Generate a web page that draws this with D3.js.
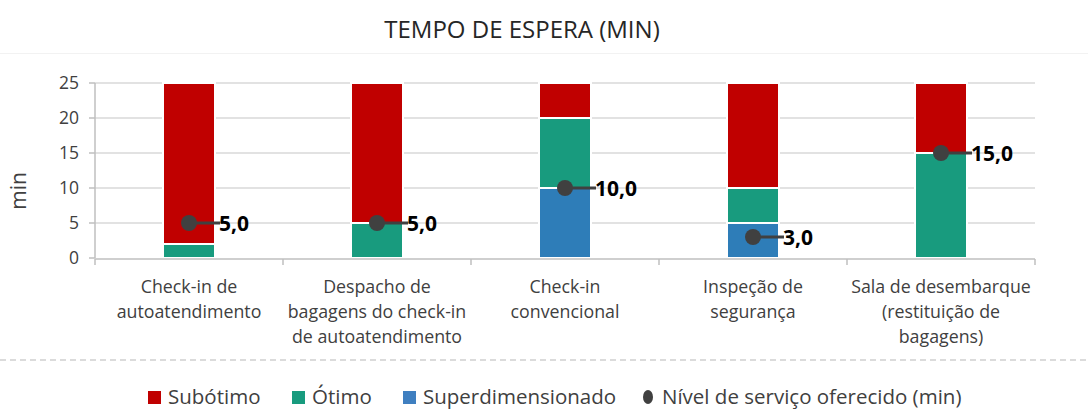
<!DOCTYPE html>
<html><head><meta charset="utf-8">
<script src="https://cdn.jsdelivr.net/npm/d3@7"></script>
<style>body{margin:0;background:#fff;}svg{display:block;font-family:"Open Sans",sans-serif;}</style>
</head><body><svg id="c" width="1088" height="416"></svg>
<script>
const categories = [
  ["Check-in de","autoatendimento"],
  ["Despacho de","bagagens do check-in","de autoatendimento"],
  ["Check-in","convencional"],
  ["Inspeção de","segurança"],
  ["Sala de desembarque","(restituição de","bagagens)"]
];
const superdimensionado = [0, 0, 10, 5, 0];
const otimo = [2, 5, 10, 5, 15];
const subotimo = [23, 20, 5, 15, 10];
const nivelServico = [5, 5, 10, 3, 15];
const nivelLabels = ["5,0","5,0","10,0","3,0","15,0"];
const yTicks = [0,5,10,15,20,25];
const seriesNames = ["Subótimo","Ótimo","Superdimensionado","Nível de serviço oferecido (min)"];
const colors = {sub:"#C00000", ot:"#189B7E", sup:"#2E7DB8", dot:"#404040"};

const svg = d3.select("#c");
const L=95, R=1035, T=83, B=258;
const x = d3.scaleBand().domain(d3.range(categories.length)).range([L,R]).paddingInner(0).paddingOuter(0);
const y = d3.scaleLinear().domain([0,25]).range([B,T]);
const bw = 52;

// title
svg.append("text").attr("x",522).attr("y",38).attr("text-anchor","middle")
  .attr("font-size",24).attr("fill","#262626").text("TEMPO DE ESPERA (MIN)");
svg.append("line").attr("x1",0).attr("x2",1088).attr("y1",53.5).attr("y2",53.5).attr("stroke","#f2f2f2");

// grid
svg.append("g").selectAll("line").data(yTicks.filter(d=>d>0)).join("line")
  .attr("x1",L).attr("x2",R).attr("y1",d=>y(d)).attr("y2",d=>y(d))
  .attr("stroke","#d9d9d9").attr("stroke-width",1.5);

// y tick labels
svg.append("g").selectAll("text").data(yTicks).join("text")
  .attr("x",79).attr("y",d=>y(d)).attr("dy","0.35em").attr("text-anchor","end")
  .attr("font-size",17.5).attr("fill","#404040").text(d=>d);
// y axis line
svg.append("line").attr("x1",L).attr("x2",L).attr("y1",T).attr("y2",B).attr("stroke","#bfbfbf").attr("stroke-width",1.5);
svg.append("g").selectAll("line").data(yTicks).join("line")
  .attr("x1",L-6).attr("x2",L).attr("y1",d=>y(d)).attr("y2",d=>y(d)).attr("stroke","#bfbfbf").attr("stroke-width",1.5);

// y title
svg.append("text").attr("transform","translate(26,191) rotate(-90)").attr("text-anchor","middle")
  .attr("font-size",21).attr("fill","#404040").text("min");

// stacked bars
const stackData = categories.map((c,i)=>({i, sup:superdimensionado[i], ot:otimo[i], sub:subotimo[i]}));
const stack = d3.stack().keys(["sup","ot","sub"])(stackData);
const g = svg.append("g");
stack.forEach(layer=>{
  g.selectAll(null).data(layer.filter(d=>d[1]-d[0]>0)).join("rect")
    .attr("x",d=>x(d.data.i)+x.bandwidth()/2-bw/2)
    .attr("width",bw)
    .attr("y",d=>y(d[1]))
    .attr("height",d=>y(d[0])-y(d[1]))
    .attr("fill",colors[layer.key])
    .attr("stroke","#fff").attr("stroke-width",2);
});

// x axis line + ticks
svg.append("line").attr("x1",L).attr("x2",R).attr("y1",B+1).attr("y2",B+1).attr("stroke","#bfbfbf").attr("stroke-width",1.5);
svg.append("g").selectAll("line").data(d3.range(categories.length+1)).join("line")
  .attr("x1",d=>L+d*x.bandwidth()).attr("x2",d=>L+d*x.bandwidth())
  .attr("y1",B+1).attr("y2",B+7).attr("stroke","#bfbfbf").attr("stroke-width",1.5);

// x labels
const xl = svg.append("g");
categories.forEach((lines,i)=>{
  const t = xl.append("text").attr("text-anchor","middle").attr("font-size",17.8).attr("fill","#404040");
  lines.forEach((ln,j)=>t.append("tspan").attr("x",x(i)+x.bandwidth()/2).attr("y",293+j*25).text(ln));
});

// service level points
const pg = svg.append("g");
nivelServico.forEach((v,i)=>{
  const cx = x(i)+x.bandwidth()/2, cy=y(v);
  pg.append("line").attr("x1",cx).attr("x2",cx+31).attr("y1",cy).attr("y2",cy).attr("stroke",colors.dot).attr("stroke-width",3);
  pg.append("circle").attr("cx",cx).attr("cy",cy).attr("r",8).attr("fill",colors.dot);
  pg.append("text").attr("x",cx+30).attr("y",cy).attr("dy","0.36em").attr("font-size",21).attr("font-weight","bold")
    .attr("fill","#000").text(nivelLabels[i]);
});

// dashed separator
svg.append("line").attr("x1",0).attr("x2",1088).attr("y1",360).attr("y2",360)
  .attr("stroke","#d0d0d0").attr("stroke-width",1.5).attr("stroke-dasharray","6,4");

// legend
const leg = svg.append("g").attr("font-size",20.5).attr("fill","#404040");
const legItems = [
  {name:seriesNames[0], c:colors.sub, x:148, type:"rect"},
  {name:seriesNames[1], c:colors.ot, x:292, type:"rect"},
  {name:seriesNames[2], c:"#3F7FC0", x:403, type:"rect"},
  {name:seriesNames[3], c:colors.dot, x:642, type:"dot"}
];
legItems.forEach(it=>{
  if(it.type==="rect") leg.append("rect").attr("x",it.x).attr("y",391).attr("width",13).attr("height",13).attr("fill",it.c);
  else leg.append("ellipse").attr("cx",it.x+6).attr("cy",397).attr("rx",5).attr("ry",7).attr("fill",it.c);
  leg.append("text").attr("x",it.x+20).attr("y",397).attr("dy","0.35em").attr("fill","#404040").text(it.name);
});
</script></body></html>
